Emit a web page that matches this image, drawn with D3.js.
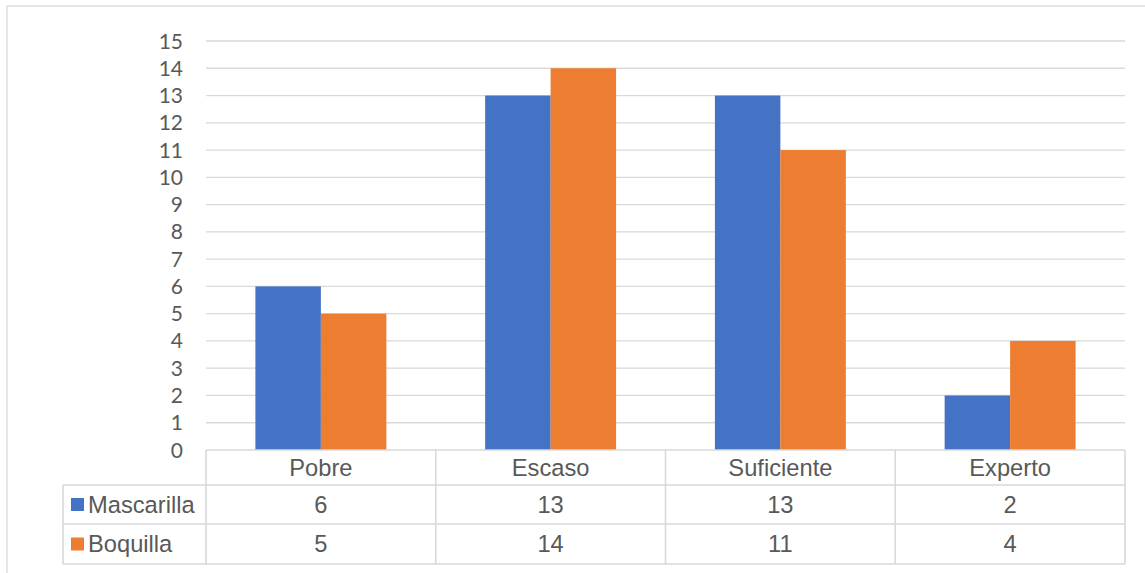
<html lang="es">
<head>
    <meta charset="utf-8">
    <title>Mascarilla vs Boquilla</title>
    <script src="https://d3js.org/d3.v7.min.js"></script>
    <style>
        body { margin: 0; background: #fff; }
        svg { display: block; }
        .tick-lbl { font-family: "Lato", "Open Sans", sans-serif; font-size: 21px; fill: #595959; }
        .tbl { font-family: "Liberation Sans", Arial, sans-serif; font-size: 23.7px; fill: #595959; }
    </style>
</head>
<body>
<script>
    // data
    var categories = ["Pobre", "Escaso", "Suficiente", "Experto"];
    var seriesNames = ["Mascarilla", "Boquilla"];
    var mascarilla = [6, 13, 13, 2];
    var boquilla = [5, 14, 11, 4];
    var yTicks = d3.range(0, 16);

    var colors = ["#4472C4", "#ED7D31"];
    var seriesValues = [mascarilla, boquilla];

    var width = 1145, height = 573;
    var svg = d3.select("body").append("svg")
        .attr("width", width)
        .attr("height", height);

    // outer chart border
    svg.append("rect")
        .attr("x", 7).attr("y", 6)
        .attr("width", 1150).attr("height", 580)
        .attr("fill", "none")
        .attr("stroke", "#D9D9D9")
        .attr("stroke-width", 1.3);

    var plotLeft = 206, plotRight = 1125, plotTop = 41, plotBottom = 450;
    var x = d3.scaleBand().domain(categories).range([plotLeft, plotRight]);
    var y = d3.scaleLinear().domain([0, 15]).range([plotBottom, plotTop]);

    // gridlines
    svg.append("g").selectAll("line")
        .data(yTicks.filter(function(d) { return d > 0; }))
        .enter().append("line")
        .attr("x1", plotLeft).attr("x2", plotRight)
        .attr("y1", function(d) { return y(d); })
        .attr("y2", function(d) { return y(d); })
        .attr("stroke", "#D9D9D9")
        .attr("stroke-width", 1.3);

    // y tick labels
    svg.append("g").selectAll("text")
        .data(yTicks)
        .enter().append("text")
        .attr("class", "tick-lbl")
        .attr("x", 183)
        .attr("y", function(d) { return y(d); })
        .attr("dy", "0.36em")
        .attr("text-anchor", "end")
        .text(function(d) { return d; });

    // bars: group is 57% of the category band (gap width 150%)
    var groupW = x.bandwidth() * 0.57;
    var inner = d3.scaleBand().domain(seriesNames).range([-groupW / 2, groupW / 2]);

    seriesNames.forEach(function(name, si) {
        svg.append("g").selectAll("rect")
            .data(categories)
            .enter().append("rect")
            .attr("x", function(c) { return x(c) + x.bandwidth() / 2 + inner(name); })
            .attr("width", inner.bandwidth())
            .attr("y", function(c, i) { return y(seriesValues[si][i]); })
            .attr("height", function(c, i) { return y(0) - y(seriesValues[si][i]); })
            .attr("fill", colors[si]);
    });

    // data table
    var rowY = [450, 485, 524, 564];
    var legendLeft = 63;
    var tbl = svg.append("g")
        .attr("stroke", "#D9D9D9")
        .attr("stroke-width", 1.6);

    tbl.append("line").attr("x1", plotLeft).attr("x2", plotRight)
        .attr("y1", rowY[0]).attr("y2", rowY[0]);
    rowY.slice(1).forEach(function(ry) {
        tbl.append("line").attr("x1", legendLeft).attr("x2", plotRight)
            .attr("y1", ry).attr("y2", ry);
    });
    tbl.append("line").attr("x1", legendLeft).attr("x2", legendLeft)
        .attr("y1", rowY[1]).attr("y2", rowY[3]);
    var vx = categories.map(function(c) { return x(c); }).concat([plotRight]);
    vx.forEach(function(vxi) {
        tbl.append("line").attr("x1", vxi).attr("x2", vxi)
            .attr("y1", rowY[0]).attr("y2", rowY[3]);
    });

    // category names
    svg.append("g").selectAll("text")
        .data(categories)
        .enter().append("text")
        .attr("class", "tbl")
        .attr("x", function(c) { return x(c) + x.bandwidth() / 2; })
        .attr("y", (rowY[0] + rowY[1]) / 2)
        .attr("dy", "0.35em")
        .attr("text-anchor", "middle")
        .text(function(c) { return c; });

    // series rows
    seriesNames.forEach(function(name, si) {
        var cy = (rowY[si + 1] + rowY[si + 2]) / 2;
        svg.append("rect")
            .attr("x", 71).attr("y", cy - 6.5)
            .attr("width", 13).attr("height", 13)
            .attr("fill", colors[si]);
        svg.append("text")
            .attr("class", "tbl")
            .attr("x", 88).attr("y", cy)
            .attr("dy", "0.35em")
            .text(name);
        svg.append("g").selectAll("text")
            .data(categories)
            .enter().append("text")
            .attr("class", "tbl")
            .attr("x", function(c) { return x(c) + x.bandwidth() / 2; })
            .attr("y", cy)
            .attr("dy", "0.35em")
            .attr("text-anchor", "middle")
            .text(function(c, i) { return seriesValues[si][i]; });
    });
</script>
</body>
</html>
